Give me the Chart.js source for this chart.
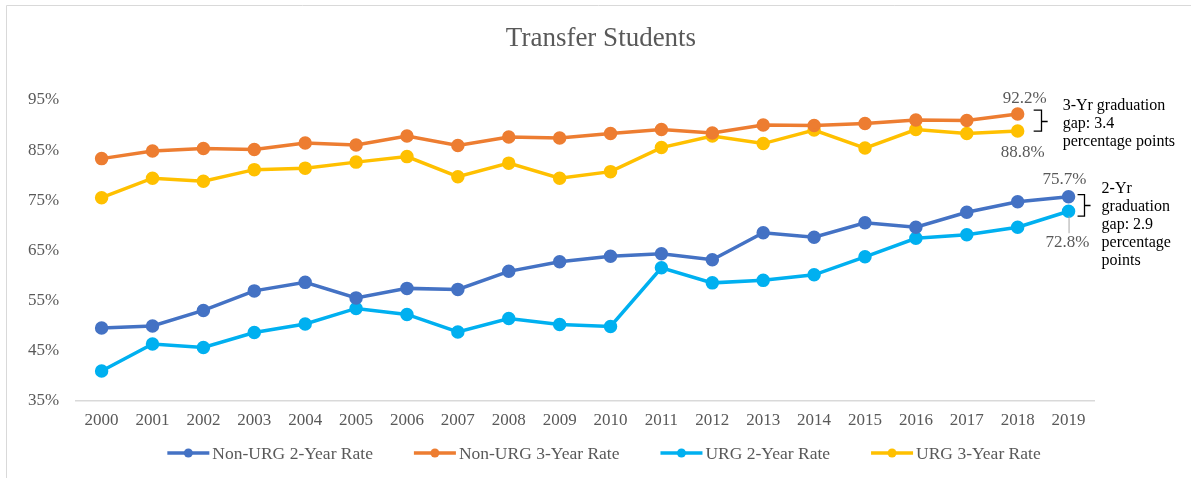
<!DOCTYPE html>
<html>
<head>
<meta charset="utf-8">
<script src="https://cdn.jsdelivr.net/npm/chart.js@4.4.1/dist/chart.umd.min.js"></script>
<style>
  html, body { margin: 0; padding: 0; background: #fff; }
  #wrap { width: 1191px; height: 478px; position: relative; }
</style>
</head>
<body>
<div id="wrap"><canvas id="chart"></canvas></div>
<script>
const years = ['2000', '2001', '2002', '2003', '2004', '2005', '2006', '2007', '2008', '2009',
               '2010', '2011', '2012', '2013', '2014', '2015', '2016', '2017', '2018', '2019'];

const nonUrg2 = [49.5, 49.9, 53.0, 56.9, 58.6, 55.5, 57.4, 57.2, 60.8, 62.7,
                 63.8, 64.3, 63.1, 68.5, 67.6, 70.5, 69.6, 72.6, 74.7, 75.7];
const nonUrg3 = [83.3, 84.8, 85.3, 85.1, 86.4, 86.0, 87.8, 85.9, 87.6, 87.4,
                 88.3, 89.1, 88.4, 90.0, 89.9, 90.3, 91.0, 90.9, 92.2, null];
const urg2 = [40.9, 46.3, 45.6, 48.6, 50.3, 53.4, 52.2, 48.7, 51.4, 50.2,
              49.8, 61.5, 58.5, 59.0, 60.1, 63.7, 67.4, 68.1, 69.6, 72.8];
const urg3 = [75.5, 79.4, 78.8, 81.1, 81.4, 82.6, 83.7, 79.7, 82.4, 79.4,
              80.7, 85.5, 87.8, 86.3, 89.0, 85.4, 89.1, 88.3, 88.8, null];

const yTicks = [35, 45, 55, 65, 75, 85, 95];

const chartTitle = 'Transfer Students';
const gap3Text = ['3-Yr graduation', 'gap: 3.4', 'percentage points'];
const gap2Text = ['2-Yr', 'graduation', 'gap: 2.9', 'percentage', 'points'];

const FONT = "'Liberation Serif', 'Times New Roman', serif";
const GREY = '#595959';

const series = [
    { label: 'Non-URG 2-Year Rate', data: nonUrg2, color: '#4472C4' },
    { label: 'Non-URG 3-Year Rate', data: nonUrg3, color: '#ED7D31' },
    { label: 'URG 2-Year Rate', data: urg2, color: '#00B0F0' },
    { label: 'URG 3-Year Rate', data: urg3, color: '#FFC000' }
];

// frame around the chart and the title, like the spreadsheet chart box
const frame = {
    id: 'frame',
    beforeDraw(chart) {
        const ctx = chart.ctx;
        ctx.save();
        ctx.strokeStyle = '#d9d9d9';
        ctx.lineWidth = 1;
        ctx.beginPath();
        ctx.moveTo(6.5, chart.height);
        ctx.lineTo(6.5, 5.5);
        ctx.lineTo(chart.width, 5.5);
        ctx.stroke();

        ctx.font = '27px ' + FONT;
        ctx.fillStyle = GREY;
        ctx.textAlign = 'center';
        ctx.textBaseline = 'alphabetic';
        ctx.fillText(chartTitle, 601, 46);
        ctx.restore();
    }
};

// legend drawn by hand so the spacing matches the original
const bottomLegend = {
    id: 'bottomLegend',
    afterDraw(chart) {
        const ctx = chart.ctx;
        ctx.save();
        ctx.font = '17.5px ' + FONT;
        const markW = 42, gapText = 3, gapItem = 41;
        const items = chart.data.datasets.map(ds => ({
            text: ds.label, color: ds.borderColor, w: ctx.measureText(ds.label).width
        }));
        let total = 0;
        items.forEach((it, i) => {
            total += markW + gapText + it.w + (i < items.length - 1 ? gapItem : 0);
        });
        let x = 604 - total / 2;
        const y = 453;
        items.forEach(it => {
            ctx.strokeStyle = it.color;
            ctx.lineWidth = 3.5;
            ctx.beginPath();
            ctx.moveTo(x, y);
            ctx.lineTo(x + markW, y);
            ctx.stroke();
            ctx.fillStyle = it.color;
            ctx.beginPath();
            ctx.arc(x + markW / 2, y, 4.5, 0, Math.PI * 2);
            ctx.fill();
            ctx.fillStyle = GREY;
            ctx.textBaseline = 'middle';
            ctx.textAlign = 'left';
            ctx.fillText(it.text, x + markW + gapText, y + 1);
            x += markW + gapText + it.w + gapItem;
        });
        ctx.restore();
    }
};

// end labels, gap brackets and notes
const gapNotes = {
    id: 'gapNotes',
    afterDatasetsDraw(chart) {
        const ctx = chart.ctx;
        const pt = (d, i) => chart.getDatasetMeta(d).data[i];
        const a = pt(1, 18), b = pt(3, 18);   // 3-year, 2018
        const c = pt(0, 19), d = pt(2, 19);   // 2-year, 2019

        ctx.save();
        ctx.font = '17px ' + FONT;
        ctx.fillStyle = GREY;
        ctx.textAlign = 'center';
        ctx.textBaseline = 'alphabetic';
        ctx.fillText(nonUrg3[18].toFixed(1) + '%', a.x + 7, a.y - 11);
        ctx.fillText(urg3[18].toFixed(1) + '%', b.x + 5, b.y + 26);
        ctx.fillText(nonUrg2[19].toFixed(1) + '%', c.x - 4, c.y - 13);
        ctx.fillText(urg2[19].toFixed(1) + '%', d.x - 1, d.y + 36);

        // leader line for the lower 2-year label
        ctx.strokeStyle = '#a6a6a6';
        ctx.lineWidth = 1;
        ctx.beginPath();
        ctx.moveTo(d.x + 0.5, d.y + 5);
        ctx.lineTo(d.x + 0.5, d.y + 22);
        ctx.stroke();

        const bracket = (x0, x1, top, bottom) => {
            const xm = Math.round((x0 + x1) / 2) + 0.5;
            const mid = Math.round((top + bottom) / 2) + 0.5;
            ctx.beginPath();
            ctx.moveTo(x0, top);
            ctx.lineTo(xm, top);
            ctx.lineTo(xm, bottom);
            ctx.lineTo(x0, bottom);
            ctx.moveTo(xm, mid);
            ctx.lineTo(x1, mid);
            ctx.stroke();
        };
        ctx.strokeStyle = '#000';
        ctx.lineWidth = 1.3;
        bracket(a.x + 16, a.x + 30, a.y - 4, b.y);
        bracket(c.x + 9, c.x + 22, c.y - 2, d.y + 5);

        ctx.font = '16px ' + FONT;
        ctx.fillStyle = '#000';
        ctx.textAlign = 'left';
        gap3Text.forEach((t, i) => ctx.fillText(t, a.x + 45, a.y - 4 + 18 * i));
        gap2Text.forEach((t, i) => ctx.fillText(t, c.x + 33, c.y - 4 + 18 * i));
        ctx.restore();
    }
};

new Chart(document.getElementById('chart'), {
    type: 'line',
    data: {
        labels: years,
        datasets: series.map(s => ({
            label: s.label,
            data: s.data,
            borderColor: s.color,
            backgroundColor: s.color,
            pointBackgroundColor: s.color,
            pointBorderColor: s.color,
            borderWidth: 3.5,
            pointRadius: 5,
            pointHoverRadius: 5,
            tension: 0,
            spanGaps: false
        }))
    },
    options: {
        responsive: true,
        maintainAspectRatio: false,
        animation: false,
        layout: {
            padding: { left: 11, right: 97, top: 100, bottom: 37 }
        },
        plugins: {
            legend: { display: false },
            tooltip: { enabled: false },
            title: { display: false }
        },
        scales: {
            x: {
                offset: true,
                grid: { display: false, drawTicks: false },
                border: { display: true, color: '#d9d9d9', width: 1.5 },
                ticks: {
                    color: GREY,
                    padding: 10,
                    maxRotation: 0,
                    autoSkip: false,
                    font: { family: FONT, size: 17 }
                }
            },
            y: {
                min: 35,
                max: 95,
                afterBuildTicks: axis => { axis.ticks = yTicks.map(v => ({ value: v })); },
                grid: { display: false, drawTicks: false },
                border: { display: false },
                ticks: {
                    color: GREY,
                    padding: 17,
                    font: { family: FONT, size: 17 },
                    callback: v => v + '%'
                }
            }
        }
    },
    plugins: [frame, bottomLegend, gapNotes]
});
</script>
</body>
</html>
